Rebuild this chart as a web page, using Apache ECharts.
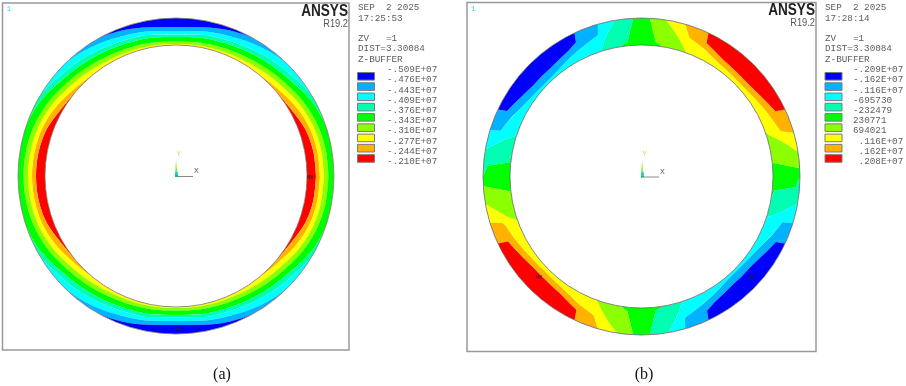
<!DOCTYPE html>
<html><head><meta charset="utf-8">
<style>html,body{margin:0;padding:0;background:#fff}#c{width:906px;height:386px}</style>
<script src="https://cdn.jsdelivr.net/npm/echarts@6/dist/echarts.min.js"></script>
</head><body><div id="c"></div>
<script>
// Contour colours (legend order, top to bottom)
const legendColors = ['#0000ff','#00b2ff','#00ffff','#00ffb2','#00ff00','#8cff00','#ffff00','#ffb200','#ff0000'];
const labelsA = ['-.509E+07','-.476E+07','-.443E+07','-.409E+07','-.376E+07','-.343E+07','-.310E+07','-.277E+07','-.244E+07','-.210E+07'];
const labelsB = ['-.209E+07','-.162E+07','-.116E+07','-695730','-232479','230771','694021',' .116E+07',' .162E+07',' .208E+07'];

// Panel (a): band thickness through the ring wall at every 10 degrees, inner band first
const aAngles = [0,10,20,30,40,50,60,70,80,90,100,110,120,130,140,150,160,170,180,190,200,210,220,230,240,250,260,270,280,290,300,310,320,330,340,350,360];
const aRed    = [9,8.5,6.5,2,0,0,0,0,0,0,0,0,0,0,0,2,6.5,8.5,9,8.5,6.5,2,0,0,0,0,0,0,0,0,0,0,0,2,6.5,8.5,9];
const aOrange = [4,4,4.5,5.5,3,.5,0,0,0,0,0,0,0,.5,3,5.5,4.5,4,4,4,4.5,5.5,3,.5,0,0,0,0,0,0,0,.5,3,5.5,4.5,4,4];
const aYellow = [4,4,4,4.5,5,4.5,3,2,1.5,1,1.5,2,3,4.5,5,4.5,4,4,4,4,4,4.5,5,4.5,3,2,1.5,1,1.5,2,3,4.5,5,4.5,4,4,4];
const aLime   = [4.5,4.5,4.5,4.5,4.5,4.5,4,3.5,3,2.5,3,3.5,4,4.5,4.5,4.5,4.5,4.5,4.5,4.5,4.5,4.5,4.5,4.5,4,3.5,3,2.5,3,3.5,4,4.5,4.5,4.5,4.5,4.5,4.5];
const aGreen  = [5.5,6,7.2,7,5.5,5.5,5.5,5,5,4.5,5,5,5.5,5.5,5.5,7,7.2,6,5.5,6,7.2,7,5.5,5.5,5.5,5,5,4.5,5,5,5.5,5.5,5.5,7,7.2,6,5.5];
const aTeal   = [0,0,.3,3.5,4.5,4.5,4,3.5,3,2.5,3,3.5,4,4.5,4.5,3.5,.3,0,0,0,.3,3.5,4.5,4.5,4,3.5,3,2.5,3,3.5,4,4.5,4.5,3.5,.3,0,0];
const aCyan   = [0,0,0,0,5,6,5.5,4.5,3.5,3.5,3.5,4.5,5.5,6,5,0,0,0,0,0,0,0,5,6,5.5,4.5,3.5,3.5,3.5,4.5,5.5,6,5,0,0,0,0];
const aSky    = [0,0,0,0,0,1.5,5,5.5,4,4,4,5.5,5,1.5,0,0,0,0,0,0,0,0,0,1.5,5,5.5,4,4,4,5.5,5,1.5,0,0,0,0,0];
const aBlue   = [0,0,0,0,0,0,0,3,7,9.5,7,3,0,0,0,0,0,0,0,0,0,0,0,0,0,3,7,9.5,7,3,0,0,0,0,0,0,0];

// Panel (b): warm quadrants, inner band first
const q1Angles = [0,3,6,9,12,16,18,20,25,26,30,35,40,45,50,55,60,64,65,70,71,74,77,81,84,87,90];
const q1Green  = [27,27,0,0,0,0,0,0,0,0,0,0,0,0,0,0,0,0,0,0,0,0,0,0,4,27,27];
const q1Lime   = [0,0,27,27,18.8,8,2.5,0,0,0,0,0,0,0,0,0,0,0,0,0,2,9.6,17,27,23,0,0];
const q1Yellow = [0,0,0,0,8.2,19,12.5,13.5,10.5,10,8,6,4.5,4,4.5,5.5,8,11,11.5,14.5,13.5,17.4,10,0,0,0,0];
const q1Orange = [0,0,0,0,0,0,12,13.5,16.5,7.5,6.7,5.8,5.5,5.7,5.5,5.5,5.9,6,15.5,12.5,11.5,0,0,0,0,0,0];
const q1Red    = [0,0,0,0,0,0,0,0,0,9.5,12.3,15.2,17,17.3,17,16,13.1,10,0,0,0,0,0,0,0,0,0];
const q3Angles = [180,183.5,186.5,190,193,197,198.5,200,205,206,210,215,220,225,230,235,240,244,245,250,251,254,257,261,264,267,270];
const q3Green  = [27,27,0,0,0,0,0,0,0,0,0,0,0,0,0,0,0,0,0,0,0,0,0,0,4,27,27];
const q3Lime   = [0,0,27,27,18,8,2.5,0,0,0,0,0,0,0,0,0,0,0,0,0,2,9.6,17,27,23,0,0];
const q3Yellow = [0,0,0,0,9,19,12.5,13,10.5,10,8,6,4.5,4,4.5,5.5,8,11,11.5,14.5,13.5,17.4,10,0,0,0,0];
const q3Orange = [0,0,0,0,0,0,12,14,16.5,7,6.5,5.8,5.5,5.7,5.5,5.5,5.9,6,15.5,12.5,11.5,0,0,0,0,0,0];
const q3Red    = [0,0,0,0,0,0,0,0,0,10,12.5,15.2,17,17.3,17,16,13.1,10,0,0,0,0,0,0,0,0,0];

// Panel (b): cold quadrants, inner band first
const q2Angles = [90,93,96,100,103,106,107,108,110,115,116,120,125,130,135,140,145,150,154,155,160,162,163,166,170,174,176,180];
const q2Green  = [27,27,3.5,0,0,0,0,0,0,0,0,0,0,0,0,0,0,0,0,0,0,0,0,0,0,2,23,27];
const q2Teal   = [0,0,23.5,26.4,16.7,7,3,.6,0,0,0,0,0,0,0,0,0,0,0,0,0,.6,3.9,13.5,26.4,25,4,0];
const q2Cyan   = [0,0,0,.6,10.3,20,14,14.9,14,10.5,10,7.5,5,3,2.5,3,4.5,7,10,11,15,15.9,23.1,13.5,.6,0,0,0];
const q2Sky    = [0,0,0,0,0,0,10,11.5,13,16.5,8,6.5,6.5,7,7.5,7,7.5,8,8,16,12,10.5,0,0,0,0,0,0];
const q2Blue   = [0,0,0,0,0,0,0,0,0,0,9,13,15.5,17,17,17,15,12,9,0,0,0,0,0,0,0,0,0];
const q4Angles = [270,273,276,280,283,286,287,288,290,295,296,300,305,310,315,320,325,330,334,335,340,342,343,346,350,354,356,360];
const q4Green  = [27,27,3.5,0,0,0,0,0,0,0,0,0,0,0,0,0,0,0,0,0,0,0,0,0,0,2,23,27];
const q4Teal   = [0,0,23.5,26.4,16.7,7,3,.6,0,0,0,0,0,0,0,0,0,0,0,0,0,.6,3.9,13.5,26.4,25,4,0];
const q4Cyan   = [0,0,0,.6,10.3,20,14,14.9,14,10.5,10,7.5,5,3,2.5,3,4.5,7,10,11,15,15.9,23.1,13.5,.6,0,0,0];
const q4Sky    = [0,0,0,0,0,0,10,11.5,13,16.5,8,6.5,6.5,7,7.5,7,7.5,8,8,16,12,10.5,0,0,0,0,0,0];
const q4Blue   = [0,0,0,0,0,0,0,0,0,0,9,13,15.5,17,17,17,15,12,9,0,0,0,0,0,0,0,0,0];

const C = {blue:legendColors[0],sky:legendColors[1],cyan:legendColors[2],teal:legendColors[3],green:legendColors[4],lime:legendColors[5],yellow:legendColors[6],orange:legendColors[7],red:legendColors[8]};

function band(polarIndex, color, angles, vals, smooth){
  return {type:'line',coordinateSystem:'polar',polarIndex,stack:'wall'+polarIndex,
    data:angles.map((a,i)=>[vals[i],a]),showSymbol:false,symbol:'none',silent:true,smooth,
    lineStyle:{width:0},areaStyle:{color,opacity:1},animation:false,z:2};
}
const zero = a => a.map(()=>0);
const join = (q1,q2,q3,q4) => q1.concat(q2.slice(1),q3.slice(1),q4.slice(1));
const bAngles = join(q1Angles,q2Angles,q3Angles,q4Angles);
const bSeries = [
  ['green', join(q1Green,q2Green,q3Green,q4Green)],
  ['lime',  join(q1Lime,zero(q2Angles),q3Lime,zero(q4Angles))],
  ['yellow',join(q1Yellow,zero(q2Angles),q3Yellow,zero(q4Angles))],
  ['orange',join(q1Orange,zero(q2Angles),q3Orange,zero(q4Angles))],
  ['red',   join(q1Red,zero(q2Angles),q3Red,zero(q4Angles))],
  ['teal',  join(zero(q1Angles),q2Teal,zero(q3Angles),q4Teal)],
  ['cyan',  join(zero(q1Angles),q2Cyan,zero(q3Angles),q4Cyan)],
  ['sky',   join(zero(q1Angles),q2Sky,zero(q3Angles),q4Sky)],
  ['blue',  join(zero(q1Angles),q2Blue,zero(q3Angles),q4Blue)]
];
const aSeries = [['red',aRed],['orange',aOrange],['yellow',aYellow],['lime',aLime],['green',aGreen],['teal',aTeal],['cyan',aCyan],['sky',aSky],['blue',aBlue]];

const series = aSeries.map(s=>band(0,C[s[0]],aAngles,s[1],0.33)).concat(bSeries.map(s=>band(1,C[s[0]],bAngles,s[1],false)));

const MONO = '"Liberation Mono", monospace', GREY='#5f5f5f';
const g = [];
function txt(x,y,text,size,color,extra){
  g.push(Object.assign({type:'text',x,y,z:20,silent:true,style:{text,fill:color||GREY,font:(size||9.3)+'px '+MONO,verticalAlign:'middle'}},extra||{}));
}
function frame(x,y,w,h){ g.push({type:'rect',z:1,silent:true,shape:{x,y,width:w,height:h},style:{fill:'#fff',stroke:'#999',lineWidth:1.5}}); }
function panel(o){
  frame(o.fx,o.fy,o.fw,o.fh);
  txt(o.fx+4,o.fy+6,'1',8,'#22e6ee');
  g.push({type:'text',z:20,silent:true,x:o.fx+o.fw-1,y:o.ay,scaleX:.85,style:{text:'ANSYS',fill:'#222',font:'bold 16px "Liberation Sans"',align:'right',verticalAlign:'middle'}});
  g.push({type:'text',z:20,silent:true,x:o.fx+o.fw-1,y:o.ay+12.5,scaleX:.93,style:{text:'R19.2',fill:'#555',font:'10px "Liberation Sans"',align:'right',verticalAlign:'middle'}});
  txt(o.tx,o.ty,'SEP  2 2025'); txt(o.tx,o.ty+11,o.time); txt(o.tx,o.ty+31,'ZV   =1'); txt(o.tx,o.ty+41,'DIST=3.30084'); txt(o.tx,o.ty+52,'Z-BUFFER');
  legendColors.forEach((c,i)=>{
    g.push({type:'rect',z:20,silent:true,shape:{x:o.sx,y:72.5+i*10.27,width:17,height:7.6},style:{fill:c,stroke:'#7a7a7a',lineWidth:1}});
  });
  o.labels.forEach((t,i)=>txt(o.lx,69.8+i*10.2,t));
  const cx=o.cx, cy=o.cy;
  g.push({type:'line',z:20,silent:true,shape:{x1:cx+2,y1:cy+.5,x2:cx+17,y2:cy+.5},style:{stroke:'#8a8a8a',lineWidth:1}});
  g.push({type:'polygon',z:20,silent:true,shape:{points:[[cx,cy-16],[cx+1.5,cy+1],[cx-1,cy+1]]},style:{fill:'#7fe800'}});
  g.push({type:'rect',z:20,silent:true,shape:{x:cx-1,y:cy-4,width:3,height:3},style:{fill:'#22d3d3'}});
  g.push({type:'rect',z:20,silent:true,shape:{x:cx-1,y:cy-1,width:3,height:2},style:{fill:'#10c060'}});
  txt(cx+.5,cy-22,'Y',7.5,'#b8e860');
  txt(cx+18,cy-5,'X',8,'#666');
  o.marks.forEach(m=>txt(m[0],m[1],m[2],5.5,'#222'));
}
panel({fx:2.5,fy:3,fw:346.5,fh:347,ay:11.5,tx:358,ty:8,time:'17:25:53',sx:357.5,lx:387,labels:labelsA,cx:176,cy:176,
  marks:[[307,178,'MX'],[175,330,'MN']]});
panel({fx:467,fy:2.5,fw:349,fh:349,ay:11,tx:825,ty:7.5,time:'17:28:14',sx:825,lx:853,labels:labelsB,cx:642,cy:176.5,
  marks:[[536,278,'MX'],[748,278,'MN']]});
g.push({type:'text',z:20,silent:true,x:222,y:375,style:{text:'(a)',fill:'#111',font:'16px "Liberation Serif"',align:'center',verticalAlign:'middle'}});
g.push({type:'text',z:20,silent:true,x:644,y:375,style:{text:'(b)',fill:'#111',font:'16px "Liberation Serif"',align:'center',verticalAlign:'middle'}});

const hiddenRadius = i => ({polarIndex:i,min:0,max:27,show:false,axisLine:{show:false},axisTick:{show:false},axisLabel:{show:false},splitLine:{show:false}});
const ringAngle = (i,col) => ({polarIndex:i,type:'value',min:0,max:360,startAngle:0,clockwise:false,z:10,
  axisLine:{show:true,lineStyle:{color:col,width:.8}},axisTick:{show:false},axisLabel:{show:false},splitLine:{show:false}});

const chart = echarts.init(document.getElementById('c'),null,{renderer:'canvas'});
chart.setOption({
  backgroundColor:'#fff',animation:false,
  polar:[{center:[176,176],radius:[131,158]},{center:[641.5,176.5],radius:[131.5,158.5]}],
  radiusAxis:[hiddenRadius(0),hiddenRadius(1)],
  angleAxis:[ringAngle(0,'#807868'),ringAngle(1,'#666')],
  graphic:{elements:g},
  series
});
</script></body></html>
